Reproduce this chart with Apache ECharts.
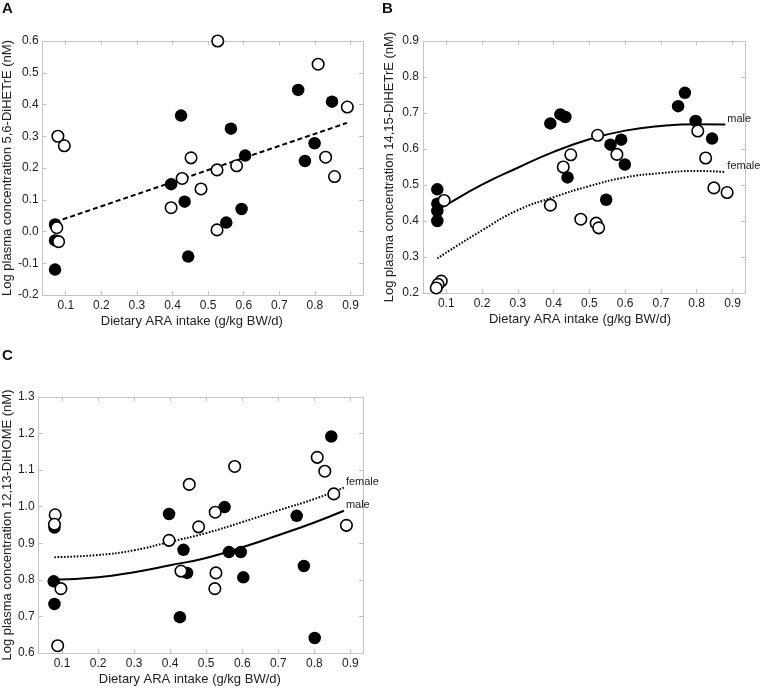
<!DOCTYPE html>
<html><head><meta charset="utf-8">
<script src="https://cdn.jsdelivr.net/npm/echarts@6/dist/echarts.min.js"></script>
<style>html,body{margin:0;padding:0;background:#fff}#c{width:762px;height:689px}</style>
</head><body><div id="c"></div>
<script>
// ---- tick labels / texts ----
const xTicks = [0.1, 0.2, 0.3, 0.4, 0.5, 0.6, 0.7, 0.8, 0.9];
const xRange = [0.035, 0.935];
const xTitle = 'Dietary ARA intake (g/kg BW/d)';
const panelLetters = ['A', 'B', 'C'];
const yTitles = [
  'Log plasma concentration 5,6-DiHETrE (nM)',
  'Log plasma concentration 14,15-DiHETrE (nM)',
  'Log plasma concentration 12,13-DiHOME (nM)'
];
const yRangeA = [-0.2, 0.6];
const yRangeB = [0.2, 0.9];
const yRangeC = [0.6, 1.3];

// ---- Panel A: 5,6-DiHETrE ----
const A_filled = [[0.07,0.022],[0.07,-0.028],[0.07,-0.12],[0.396,0.149],[0.424,0.365],[0.434,0.094],
  [0.444,-0.079],[0.551,0.028],[0.564,0.324],[0.594,0.071],[0.604,0.239],[0.753,0.446],[0.772,0.222],
  [0.799,0.278],[0.848,0.409]];
const A_open = [[0.078,0.30],[0.096,0.27],[0.075,0.012],[0.08,-0.032],[0.396,0.075],[0.427,0.167],
  [0.452,0.232],[0.48,0.134],[0.525,0.194],[0.525,0.005],[0.527,0.6],[0.58,0.207],[0.809,0.527],
  [0.83,0.234],[0.855,0.173],[0.891,0.392]];
const A_fit = [[0.07,0.03],[0.89,0.342]];

// ---- Panel B: 14,15-DiHETrE ----
const B_filled = [[0.075,0.488],[0.075,0.448],[0.075,0.428],[0.075,0.4],[0.391,0.671],[0.419,0.696],
  [0.433,0.689],[0.439,0.521],[0.547,0.459],[0.559,0.612],[0.589,0.626],[0.599,0.557],[0.748,0.719],
  [0.767,0.756],[0.797,0.678],[0.843,0.629]];
const B_open = [[0.094,0.457],[0.086,0.233],[0.077,0.224],[0.072,0.214],[0.391,0.444],[0.427,0.55],
  [0.448,0.584],[0.476,0.405],[0.519,0.394],[0.526,0.381],[0.523,0.638],[0.577,0.585],[0.803,0.65],
  [0.825,0.575],[0.848,0.492],[0.885,0.479]];
const B_male = [[0.075,0.43],[0.1,0.445],[0.2,0.501],[0.3,0.548],[0.4,0.592],[0.5,0.627],[0.6,0.651],
  [0.7,0.664],[0.8,0.669],[0.88,0.668]];
const B_female = [[0.075,0.296],[0.2,0.374],[0.3,0.43],[0.4,0.466],[0.5,0.497],[0.6,0.521],[0.7,0.533],
  [0.8,0.539],[0.88,0.536]];

// ---- Panel C: 12,13-DiHOME ----
const C_filled = [[0.079,0.943],[0.077,0.796],[0.079,0.734],[0.397,0.98],[0.427,0.698],[0.437,0.882],
  [0.447,0.819],[0.551,0.999],[0.563,0.876],[0.596,0.876],[0.603,0.807],[0.751,0.975],[0.771,0.838],
  [0.801,0.641],[0.847,1.192]];
const C_open = [[0.081,0.978],[0.079,0.952],[0.097,0.776],[0.088,0.62],[0.397,0.908],[0.43,0.824],
  [0.453,1.061],[0.479,0.945],[0.525,0.985],[0.527,0.819],[0.524,0.776],[0.579,1.11],[0.808,1.135],
  [0.829,1.097],[0.854,1.035],[0.889,0.949]];
const C_male = [[0.074,0.8],[0.2,0.807],[0.3,0.821],[0.4,0.84],[0.5,0.86],[0.6,0.889],[0.7,0.922],
  [0.8,0.957],[0.882,0.989]];
const C_female = [[0.079,0.862],[0.2,0.868],[0.3,0.881],[0.4,0.904],[0.5,0.928],[0.6,0.958],[0.7,0.99],
  [0.8,1.021],[0.882,1.052]];

// ---- layout ----
const FONT = '"Liberation Sans", Arial, sans-serif';
const AX = '#c4c4c4';
const TXT = '#222';
const grids = [
  {left: 40, top: 41, width: 323, height: 254},
  {left: 423, top: 41, width: 322, height: 252},
  {left: 38, top: 397, width: 325, height: 256}
];
const yRanges = [yRangeA, yRangeB, yRangeC];
const xNamePad = [[0, 22, 0, 0], [0, 8, 0, 0], [0, 22, 0, 0]];
const yNameGap = [26, 27, 24];

const xAxes = [], yAxes = [];
grids.forEach((g, i) => {
  const line = {show: true, onZero: false, lineStyle: {color: AX, width: 1}};
  xAxes.push({
    type: 'value', gridIndex: i, position: 'bottom', min: xRange[0], max: xRange[1],
    axisLine: line, splitLine: {show: false},
    axisTick: {show: true, inside: true, length: 4, customValues: xTicks, lineStyle: {color: AX}},
    axisLabel: {customValues: xTicks, formatter: v => v.toFixed(1), fontSize: 12, color: TXT, margin: 5, fontFamily: FONT},
    name: xTitle, nameLocation: 'middle', nameGap: 20,
    nameTextStyle: {fontSize: 13, color: TXT, fontFamily: FONT, padding: xNamePad[i]}
  });
  xAxes.push({
    type: 'value', gridIndex: i, position: 'top', min: xRange[0], max: xRange[1],
    axisLine: line, splitLine: {show: false},
    axisTick: {show: true, inside: true, length: 4, customValues: xTicks, lineStyle: {color: AX}},
    axisLabel: {show: false}
  });
  yAxes.push({
    type: 'value', gridIndex: i, position: 'left', min: yRanges[i][0], max: yRanges[i][1], interval: 0.1,
    axisLine: line, splitLine: {show: false},
    axisTick: {show: true, inside: true, length: 4, lineStyle: {color: AX}},
    axisLabel: {formatter: v => (Math.abs(v) < 1e-9 ? 0 : v).toFixed(1), fontSize: 12, color: TXT, margin: 4, fontFamily: FONT},
    name: yTitles[i], nameLocation: 'middle', nameGap: yNameGap[i],
    nameTextStyle: {fontSize: 13, color: TXT, fontFamily: FONT}
  });
  yAxes.push({
    type: 'value', gridIndex: i, position: 'right', min: yRanges[i][0], max: yRanges[i][1], interval: 0.1,
    axisLine: line, splitLine: {show: false},
    axisTick: {show: true, inside: true, length: 4, lineStyle: {color: AX}},
    axisLabel: {show: false}
  });
});

function filled(i, data) {
  return {type: 'scatter', xAxisIndex: 2 * i, yAxisIndex: 2 * i, data, symbol: 'circle', symbolSize: 12.5,
    itemStyle: {color: '#000', opacity: 1}, z: 3, silent: true};
}
function open(i, data) {
  return {type: 'scatter', xAxisIndex: 2 * i, yAxisIndex: 2 * i, data, symbol: 'circle', symbolSize: 11.5,
    itemStyle: {color: '#fff', borderColor: '#000', borderWidth: 1.6, opacity: 1}, z: 4, silent: true};
}
function fit(i, data, dash, label, smooth) {
  const s = {type: 'line', xAxisIndex: 2 * i, yAxisIndex: 2 * i, data, symbol: 'none', showSymbol: false,
    smooth: smooth, lineStyle: {color: '#000', width: 2, type: dash}, z: 2, silent: true};
  if (label) {
    s.endLabel = {show: true, formatter: label, color: TXT, fontSize: 11, fontFamily: FONT, offset: [0, -6], distance: 2};
  }
  return s;
}

const series = [
  fit(0, A_fit, [5, 3], null, false),
  filled(0, A_filled), open(0, A_open),
  fit(1, B_male, 'solid', 'male', true),
  fit(1, B_female, [1.6, 1.6], 'female', true),
  filled(1, B_filled), open(1, B_open),
  fit(2, C_male, 'solid', 'male', true),
  fit(2, C_female, [1.6, 1.6], 'female', true),
  filled(2, C_filled), open(2, C_open)
];

const letterPos = [{left: 2, top: 1}, {left: 382, top: 1}, {left: 2, top: 348}];
const titles = panelLetters.map((t, i) => ({
  text: t, left: letterPos[i].left, top: letterPos[i].top, padding: 0,
  textStyle: {fontSize: 15, fontWeight: 'bold', color: '#111', fontFamily: FONT}
}));

const chart = echarts.init(document.getElementById('c'), null, {renderer: 'canvas'});
chart.setOption({
  animation: false,
  backgroundColor: '#fff',
  textStyle: {fontFamily: FONT},
  title: titles,
  grid: grids,
  xAxis: xAxes,
  yAxis: yAxes,
  series
});
</script>
</body></html>
